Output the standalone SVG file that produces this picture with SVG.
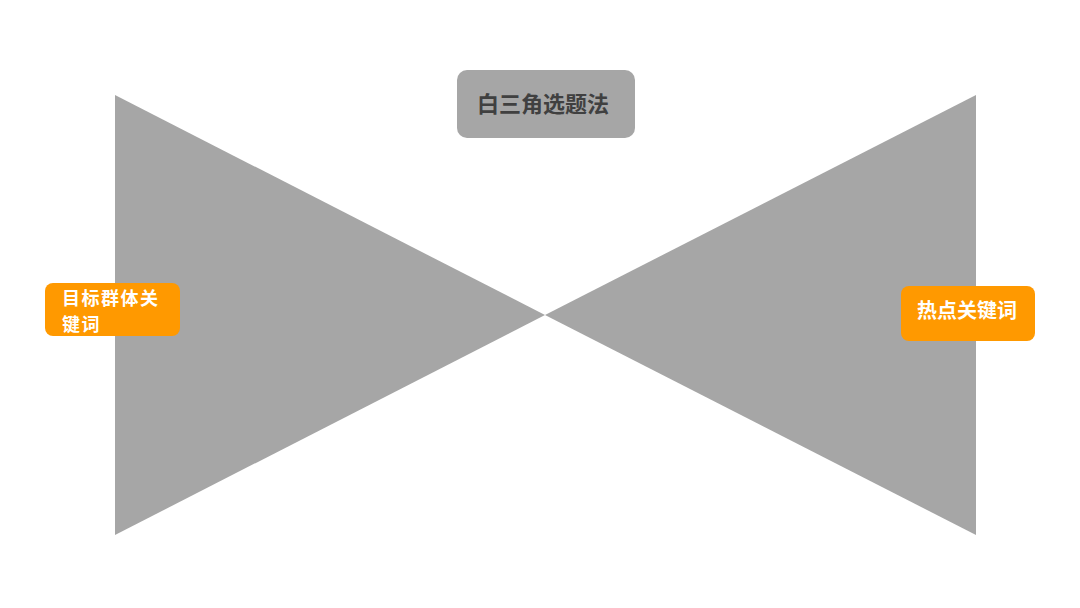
<svg xmlns="http://www.w3.org/2000/svg" width="1080" height="608" viewBox="0 0 1080 608">
<style>
.tri{fill:#A6A6A6;}
.tag{fill:#FF9900;}
.t{font-family:"Noto Sans CJK SC","Liberation Sans",sans-serif;font-weight:bold;}
.w{fill:#FFFFFF;font-size:20px;}
.w2{fill:#FFFFFF;font-size:18px;letter-spacing:1.5px;}
</style>
<rect width="1080" height="608" fill="#FFFFFF"/>
<g id="left-triangle"><polygon class="tri" points="115,95 115,535 545,315"/></g>
<g id="right-triangle"><polygon class="tri" points="976,95 976,535 545,315"/></g>
<g id="connectors"></g>
<g id="title">
<rect x="457" y="70" width="178" height="68" rx="10" fill="#A6A6A6"/>
<text class="t" x="543" y="112" font-size="22" fill="#404040" text-anchor="middle">白三角选题法</text>
</g>
<g id="left-tag">
<rect class="tag" x="45" y="283" width="135" height="53" rx="8"/>
<text class="t w2" x="62" y="305">目标群体关</text>
<text class="t w2" x="62" y="331.2">键词</text>
</g>
<g id="right-tag">
<rect class="tag" x="901" y="286" width="134" height="55" rx="8"/>
<text class="t w" x="967" y="318" text-anchor="middle">热点关键词</text>
</g>
</svg>
